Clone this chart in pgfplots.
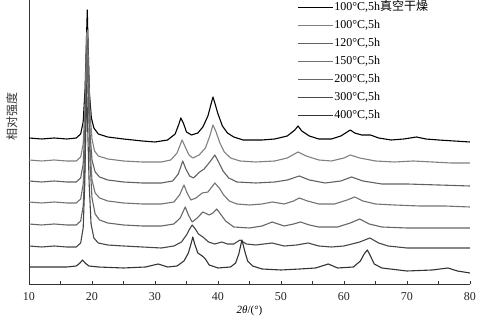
\documentclass[border=0pt]{standalone}
\usepackage{fontspec}
\setmainfont{Liberation Serif}
\newfontfamily\cjk{Noto Sans CJK SC}
\usepackage{pgfplots}
\pgfplotsset{compat=1.18}
\begin{document}
\begin{tikzpicture}[x=1pt,y=1pt]
\useasboundingbox (0,0) rectangle (480,320);
\begin{axis}[
  at={(29pt,36pt)}, anchor=south west,
  scale only axis, width=441pt, height=284pt,
  xmin=10, xmax=80, ymin=0, ymax=284,
  axis x line=bottom, axis y line=left,
  axis line style={-, line width=0.8pt, black!80},
  xtick={10,20,...,80}, minor xtick={15,25,...,75},
  ytick=\empty,
  tick align=inside,
  major tick length=3pt, minor tick length=3pt,
  tick style={line width=0.7pt, black!80},
  /pgf/number format/assume math mode=true,
  ticklabel style={font=\fontsize{12}{14}\selectfont, text=black!85},
  xticklabel style={yshift=-5pt},
  xlabel={{\itshape 2θ}/(°)},
  xlabel style={at={(axis description cs:0.5,0)}, anchor=south, yshift=-35pt, font=\fontsize{11}{13}\selectfont},
  ylabel={{\cjk 相对强度}},
  ylabel style={at={(axis description cs:0,0.59)}, anchor=south, yshift=8pt, font=\fontsize{12}{14}\selectfont, text=black!80},
  legend style={draw=none, fill=none, at={(axis description cs:0.608,1)}, anchor=north west,
    font=\fontsize{12}{14}\selectfont, row sep=4pt, inner sep=0pt,
    nodes={inner sep=1pt, text height=9pt, text depth=3pt}},
  legend cell align=left,
  legend image code/.code={\draw[#1] (0pt,0pt) -- (35pt,0pt);},
  every axis plot/.append style={line width=1.1pt, line join=round},
]
\addplot[black] coordinates {(10,146)(12,145)(14,146)(16,145)(17.5,146)(18.2,150)(18.6,162)(18.9,195)(19.1,240)(19.25,274)(19.4,235)(19.6,190)(19.9,166)(20.3,156)(21,150)(22.5,147)(25,145)(28,143)(30,142)(32,144)(33.2,150)(33.8,160)(34.1,166)(34.5,161)(35,152)(35.8,149)(36.8,151)(37.6,157)(38.4,168)(38.9,180)(39.2,187)(39.5,181)(40,170)(40.7,158)(41.5,151)(42.5,147)(44,144)(47,144)(49,145)(51,148)(52.2,154)(52.7,158)(53.3,153)(54.5,148)(56,145)(58,145)(59.5,148)(60.5,152)(61,154)(61.7,151)(62.8,149)(64.2,149)(65.5,146)(67.5,144)(69.5,145)(71.5,147)(73,145)(75,144)(77.5,143)(80,142)};
\addlegendentry{100°C,5h{\cjk 真空干燥}}
\addplot[black!50] coordinates {(10,124)(12,123)(14,124)(16,123)(17.5,123)(18.2,127)(18.6,140)(18.9,180)(19.15,250)(19.3,254)(19.45,215)(19.7,170)(20,145)(20.4,133)(21,128)(22.5,125)(25,123)(28,122)(31,122)(32.5,124)(33.5,131)(34.3,144)(34.8,137)(35.4,129)(36,126)(37,129)(38,136)(38.7,148)(39.2,159)(39.7,152)(40.3,141)(41,132)(42,126)(43.5,123)(46,122)(49,123)(51,126)(52.7,132)(54,128)(56,124)(58,123)(60,126)(61,129)(62.5,126)(65,123)(68,122)(71,123)(74,122)(77,121)(80,121)};
\addlegendentry{100°C,5h}
\addplot[black!62] coordinates {(10,103)(12,102)(14,103)(16,102)(17.5,102)(18.2,106)(18.6,120)(18.9,160)(19.15,230)(19.3,244)(19.45,200)(19.7,150)(20,124)(20.5,112)(21.2,107)(22.5,104)(25,102)(28,101)(31,101)(32.8,103)(33.7,110)(34.4,123)(34.9,115)(35.5,108)(36.1,106)(37.1,112)(37.8,115)(38.7,122)(39.5,129)(40.1,122)(40.8,113)(41.7,106)(43,102)(46,101)(49,102)(51,104)(52.9,108)(54.5,104)(57,101)(59.5,103)(61.2,107)(63,103)(66,100)(70,100)(75,99)(80,98)};
\addlegendentry{120°C,5h}
\addplot[black!55] coordinates {(10,82)(12,81)(14,82)(16,81)(17.5,81)(18.2,85)(18.6,100)(18.9,140)(19.15,215)(19.3,234)(19.45,190)(19.7,135)(20,104)(20.5,91)(21.2,86)(22.5,83)(25,81)(28,80)(31,80)(33,82)(33.9,89)(34.6,99)(35.1,91)(35.7,84)(36.5,86)(37.5,91)(38.4,92)(39.5,101)(40.2,96)(40.9,89)(41.8,83)(43,80)(45,79)(47,80)(48.6,82)(50.5,80)(52,83)(52.9,86)(54.2,83)(56,80)(58.5,80)(60.5,84)(61.7,87)(63,83)(65,80)(68,79)(72,78)(76,78)(80,77)};
\addlegendentry{150°C,5h}
\addplot[black!60] coordinates {(10,60)(12,59)(14,60)(16,59)(17.5,59)(18.2,63)(18.6,78)(18.9,120)(19.15,200)(19.3,224)(19.45,180)(19.7,120)(20,86)(20.5,70)(21.2,64)(22.5,61)(25,59)(28,58)(31,58)(33,60)(34,66)(34.8,77)(35.3,69)(35.9,62)(36.7,66)(37.6,72)(38.6,69)(39.2,71)(39.8,75)(40.4,70)(41.2,63)(42.5,57)(45,56)(47,58)(48.6,62)(50.5,58)(52,60)(53.1,62)(54.5,59)(56,57)(59,57)(61,61)(62.5,65)(64,60)(66,57)(70,56)(75,56)(80,56)};
\addlegendentry{200°C,5h}
\addplot[black!72] coordinates {(10,38)(12,37)(14,38)(16,37)(17.5,37)(18.2,41)(18.6,56)(18.85,100)(19.05,170)(19.15,200)(19.3,160)(19.55,100)(19.85,60)(20.3,46)(21,41)(22.5,39)(25,38)(28,37)(31,36)(33,38)(34.2,42)(35,49)(35.5,55)(35.9,59)(36.4,55)(36.9,50)(37.6,47)(38.5,42)(39.5,40)(40.6,42)(41.5,40)(42.5,40)(43.5,44)(44.5,40)(46,39)(48.6,41)(50.5,38)(52.5,39)(54.3,41)(56,38)(58,37)(60,38)(62.5,42)(64.1,46)(65.5,41)(67,38)(70,36)(75,36)(80,36)};
\addlegendentry{300°C,5h}
\addplot[black!80] coordinates {(10,17)(12,17)(14,17)(16,17)(17.5,18)(18.1,21)(18.5,24)(18.9,21)(19.5,18)(21,17)(25,16)(28.5,17)(30.5,20)(32,17)(33.5,18)(34.6,23)(35.3,31)(35.8,42)(36.0,47)(36.3,40)(36.8,31)(37.5,28)(38,25)(38.6,19)(40,16)(42,17)(42.8,21)(43.3,30)(43.8,44)(44.2,34)(44.7,23)(45.5,18)(47,15)(50,14)(53,15)(55.5,16)(57.5,20)(59,16)(61.5,17)(62.6,23)(63.2,30)(63.7,34)(64.2,28)(64.8,20)(66,16)(70,13)(74,14)(76.5,16)(78,13)(80,11)};
\addlegendentry{400°C,5h}
\end{axis}
\end{tikzpicture}
\end{document}
